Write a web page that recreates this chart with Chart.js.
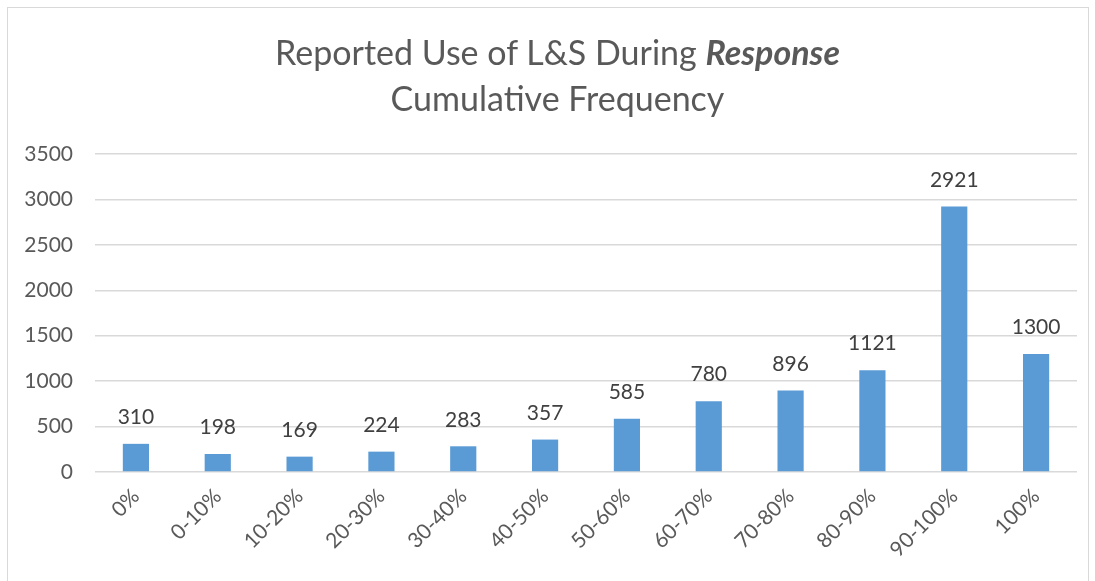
<!DOCTYPE html>
<html>
<head>
<meta charset="utf-8">
<script src="https://cdn.jsdelivr.net/npm/chart.js@4"></script>
<style>
  html, body { margin: 0; padding: 0; background: #fff; }
  #wrap { position: relative; width: 1095px; height: 581px; overflow: hidden; }
  #frame { position: absolute; left: 7px; top: 7px; width: 1082px; height: 600px; border: 1px solid #d9d9d9; box-sizing: border-box; }
  #title { position: absolute; left: 0; width: 1115px; top: 29px; text-align: center; font-family: Lato, "Open Sans", sans-serif; font-size: 34px; line-height: 46px; color: #595959; }
  #title b { font-style: italic; font-weight: bold; }
  canvas { position: absolute; left: 0; top: 0; }
</style>
</head>
<body>
<div id="wrap">
  <div id="frame"></div>
  <canvas id="c" width="1095" height="581"></canvas>
  <div id="title">Reported Use of L&amp;S During <b>Response</b><br>Cumulative Frequency</div>
</div>
<script>
const categories = ["0%", "0-10%", "10-20%", "20-30%", "30-40%", "40-50%", "50-60%", "60-70%", "70-80%", "80-90%", "90-100%", "100%"];
const frequency = [310, 198, 169, 224, 283, 357, 585, 780, 896, 1121, 2921, 1300];
const yTicks = [0, 500, 1000, 1500, 2000, 2500, 3000, 3500];

const FONT = "Lato, 'Open Sans', sans-serif";

const valueLabels = {
  id: 'valueLabels',
  afterDatasetsDraw(chart) {
    const ctx = chart.ctx;
    const meta = chart.getDatasetMeta(0);
    ctx.save();
    ctx.font = "21px " + FONT;
    ctx.fillStyle = "#404040";
    ctx.textAlign = "center";
    ctx.textBaseline = "bottom";
    meta.data.forEach((bar, i) => {
      ctx.fillText(String(chart.data.datasets[0].data[i]), bar.x, bar.y - 16);
    });
    ctx.restore();
  }
};

new Chart(document.getElementById('c'), {
  type: 'bar',
  data: {
    labels: categories,
    datasets: [{
      data: frequency,
      backgroundColor: '#5b9bd5',
      borderWidth: 0,
      barPercentage: 0.32,
      categoryPercentage: 1.0
    }]
  },
  options: {
    responsive: false,
    animation: false,
    layout: { padding: { left: 10, right: 18, top: 154, bottom: 0 } },
    plugins: { legend: { display: false }, title: { display: false }, tooltip: { enabled: false } },
    scales: {
      x: {
        grid: { display: false, drawTicks: false },
        border: { display: false },
        ticks: { color: '#595959', font: { size: 21, family: FONT }, minRotation: 45, maxRotation: 45, padding: 12 },
        afterFit(scale) { scale.height = 581 - 472; }
      },
      y: {
        min: 0, max: 3500,
        afterBuildTicks(scale) { scale.ticks = yTicks.map(v => ({ value: v })); },
        grid: { color: '#d9d9d9', lineWidth: 1.5, drawTicks: false },
        border: { display: false },
        ticks: { color: '#595959', font: { size: 21, family: FONT }, padding: 22, callback: (v) => String(v) },
        afterFit(scale) { scale.width = 85; }
      }
    }
  },
  plugins: [valueLabels]
});
</script>
</body>
</html>
